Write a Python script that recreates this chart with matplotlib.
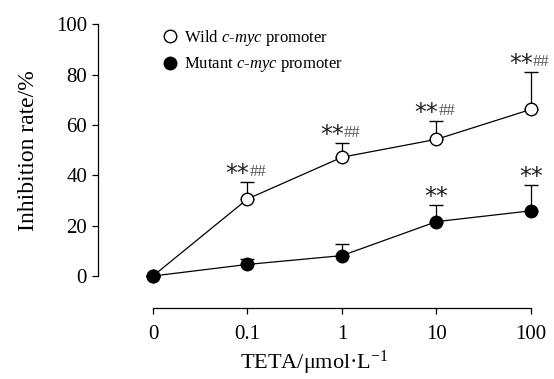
import matplotlib
matplotlib.use("Agg")
import matplotlib.pyplot as plt
from matplotlib.lines import Line2D
import numpy as np

plt.rcParams['font.family'] = ['Liberation Serif', 'DejaVu Serif']
plt.rcParams['mathtext.fontset'] = 'custom'
plt.rcParams['mathtext.rm'] = 'Liberation Serif'
plt.rcParams['mathtext.it'] = 'Liberation Serif:italic'

# data
doses = ['0', '0.1', '1', '10', '100']
wild = [0, 30.6, 47.2, 54.3, 66.2]
wild_err = [0, 6.6, 5.5, 7.3, 15.0]
mutant = [0, 4.6, 8.1, 21.6, 25.9]
mutant_err = [0, 2.3, 4.5, 6.6, 10.3]
wild_marks = ['', '**', '**', '**', '**']
wild_hash = ['', '##', '##', '##', '##']
mutant_marks = ['', '', '', '**', '**']

x = np.arange(len(doses))

fig = plt.figure(figsize=(5.54, 3.79), dpi=100)
ax = fig.add_axes([97.5 / 554, 1 - 276 / 379, (531 - 97.5) / 554, (276 - 24.3) / 379])

zero = [0] * len(x)
ax.errorbar(x, wild, yerr=[zero, wild_err], color='black', lw=0.9, elinewidth=0.9,
            capsize=5, capthick=0.9, marker='o', ms=9, mfc='white', mec='black',
            mew=1.0, clip_on=False, zorder=3)
ax.errorbar(x, mutant, yerr=[zero, mutant_err], color='black', lw=0.9, elinewidth=0.9,
            capsize=5, capthick=0.9, marker='o', ms=9, mfc='black', mec='black',
            mew=1.0, clip_on=False, zorder=3)

# significance marks
for i in x:
    top = wild[i] + wild_err[i]
    if wild_marks[i]:
        ax.text(i + 0.02, top + 3.2, wild_marks[i], ha='right', va='center', fontsize=17,
                family='DejaVu Sans', color='#222222')
        ax.text(i + 0.02, top + 4.0, wild_hash[i], ha='left', va='center', fontsize=12,
                color='#555555')
    top = mutant[i] + mutant_err[i]
    if mutant_marks[i]:
        ax.text(i, top + 3.2, mutant_marks[i], ha='center', va='center', fontsize=17,
                family='DejaVu Sans', color='#222222')

ax.set_xlim(-0.587, 4)
ax.set_ylim(0, 100)
ax.set_yticks([0, 20, 40, 60, 80, 100])
ax.set_xticks(x)
ax.set_xticklabels(doses)
ax.tick_params(labelsize=15, length=4, width=0.9, direction='out')
ax.tick_params(axis='x', pad=8)

ax.spines['top'].set_visible(False)
ax.spines['right'].set_visible(False)
ax.spines['bottom'].set_position(('outward', 23))
ax.spines['bottom'].set_bounds(0, 4)
for s in ['left', 'bottom']:
    ax.spines[s].set_linewidth(0.9)

ax.set_ylabel('Inhibition rate/%', fontsize=17, labelpad=12)
ax.set_xlabel('TETA/\u03bcmol\u00b7L$^{\\mathregular{-1}}$', fontsize=16, labelpad=4)

handles = [Line2D([], [], ls='none', marker='o', ms=9, mfc='white', mec='black', mew=1.0),
           Line2D([], [], ls='none', marker='o', ms=9, mfc='black', mec='black', mew=1.0)]
labels = ['Wild $\\mathit{c}$-$\\mathit{myc}$ promoter', 'Mutant $\\mathit{c}$-$\\mathit{myc}$ promoter']
ax.legend(handles, labels, loc='upper left', bbox_to_anchor=(0.11, 1.045), frameon=False,
          fontsize=12, handletextpad=0.2, handlelength=1.2, labelspacing=0.45)

fig.savefig('out.png', dpi=100)
